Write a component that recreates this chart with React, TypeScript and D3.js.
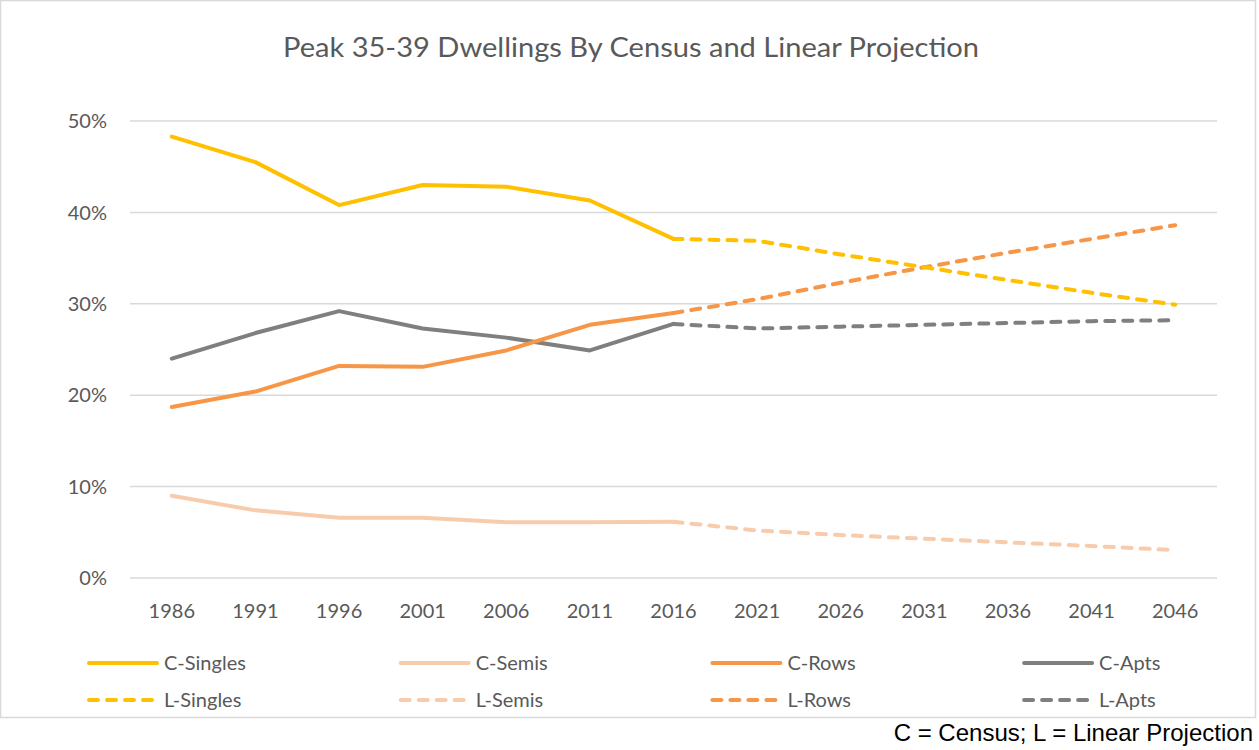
import React from "react";
import * as d3 from "d3";

const years = ["1986", "1991", "1996", "2001", "2006", "2011", "2016", "2021", "2026", "2031", "2036", "2041", "2046"];
const censusYears = years.slice(0, 7);
const projYears = years.slice(6);

const censusSingles = [48.3, 45.5, 40.8, 43.0, 42.8, 41.3, 37.1];
const censusSemis = [9.0, 7.4, 6.6, 6.6, 6.1, 6.1, 6.15];
const censusRows = [18.7, 20.4, 23.2, 23.1, 24.9, 27.7, 29.0];
const censusApts = [24.0, 26.8, 29.2, 27.3, 26.3, 24.9, 27.8];

const projSingles = [37.1, 36.9, 35.4, 34.0, 32.6, 31.2, 29.9];
const projSemis = [6.15, 5.2, 4.7, 4.3, 3.9, 3.5, 3.05];
const projRows = [29.0, 30.5, 32.3, 34.0, 35.6, 37.1, 38.6];
const projApts = [27.8, 27.3, 27.5, 27.7, 27.9, 28.1, 28.2];

const yTicks = [0, 10, 20, 30, 40, 50];

const title = "Peak 35-39 Dwellings By Census and Linear Projection";
const note = "C = Census; L = Linear Projection";

const COLORS = { singles: "#FFC000", semis: "#F8CBAD", rows: "#F79646", apts: "#7F7F7F" };

const series = [
  { name: "C-Singles", color: COLORS.singles, dashed: false, xs: censusYears, vals: censusSingles },
  { name: "C-Semis", color: COLORS.semis, dashed: false, xs: censusYears, vals: censusSemis },
  { name: "C-Rows", color: COLORS.rows, dashed: false, xs: censusYears, vals: censusRows },
  { name: "C-Apts", color: COLORS.apts, dashed: false, xs: censusYears, vals: censusApts },
  { name: "L-Singles", color: COLORS.singles, dashed: true, xs: projYears, vals: projSingles },
  { name: "L-Semis", color: COLORS.semis, dashed: true, xs: projYears, vals: projSemis },
  { name: "L-Rows", color: COLORS.rows, dashed: true, xs: projYears, vals: projRows },
  { name: "L-Apts", color: COLORS.apts, dashed: true, xs: projYears, vals: projApts },
];

const W = 1259;
const H = 750;
const FONT = "Lato, 'Open Sans', sans-serif";
const TEXT = "#595959";
const DASH = "9 9";

export default function App() {
  const x = d3.scaleBand<string>().domain(years).range([130, 1217]).padding(0);
  const cx = (yr: string) => (x(yr) as number) + x.bandwidth() / 2;
  const y = d3.scaleLinear().domain([0, 50]).range([578, 121]);

  const drawOrder = [1, 5, 3, 7, 2, 6, 0, 4];

  return (
    <div style={{ position: "absolute", left: 0, top: 0 }}>
      <svg width={W} height={H} style={{ display: "block", background: "#fff" }}>
        <rect x={0.5} y={0.5} width={1255} height={717} fill="#fff" stroke="#D9D9D9" strokeWidth={1.5} />
        <text x={631} y={57} textAnchor="middle" fontFamily={FONT} fontSize={27} fill={TEXT}
          textLength={696} lengthAdjust="spacingAndGlyphs">{title}</text>

        {yTicks.map((t) => (
          <g key={t}>
            <line x1={130} x2={1217} y1={y(t)} y2={y(t)} stroke="#D9D9D9" strokeWidth={1.5} />
            <text x={107} y={y(t)} dy="0.36em" textAnchor="end" fontFamily={FONT} fontSize={20} fill={TEXT}>
              {t}%
            </text>
          </g>
        ))}

        {years.map((yr) => (
          <text key={yr} x={cx(yr)} y={618} textAnchor="middle" fontFamily={FONT} fontSize={20} fill={TEXT}>
            {yr}
          </text>
        ))}

        {drawOrder.map((i) => {
          const s = series[i];
          const line = d3
            .line<number>()
            .x((_, j) => cx(s.xs[j]))
            .y((v) => y(v));
          return (
            <path
              key={s.name}
              d={line(s.vals) || ""}
              fill="none"
              stroke={s.color}
              strokeWidth={4}
              strokeLinecap="round"
              strokeLinejoin="round"
              strokeDasharray={s.dashed ? DASH : undefined}
            />
          );
        })}

        {series.map((s, i) => {
          const col = i % 4;
          const row = Math.floor(i / 4);
          const lx = 87 + col * 311.7;
          const ly = row === 0 ? 663 : 700;
          return (
            <g key={"lg" + s.name}>
              <line x1={lx + 2} x2={lx + 70} y1={ly} y2={ly} stroke={s.color} strokeWidth={4}
                strokeLinecap="round" strokeDasharray={s.dashed ? DASH : undefined} />
              <text x={lx + 77} y={ly} dy="0.36em" fontFamily={FONT} fontSize={20} fill={TEXT}>
                {s.name}
              </text>
            </g>
          );
        })}

        <text x={1253} y={741} textAnchor="end" fontFamily="'Liberation Sans', Arial, sans-serif" fontSize={24} fill="#000">
          {note}
        </text>
      </svg>
    </div>
  );
}
